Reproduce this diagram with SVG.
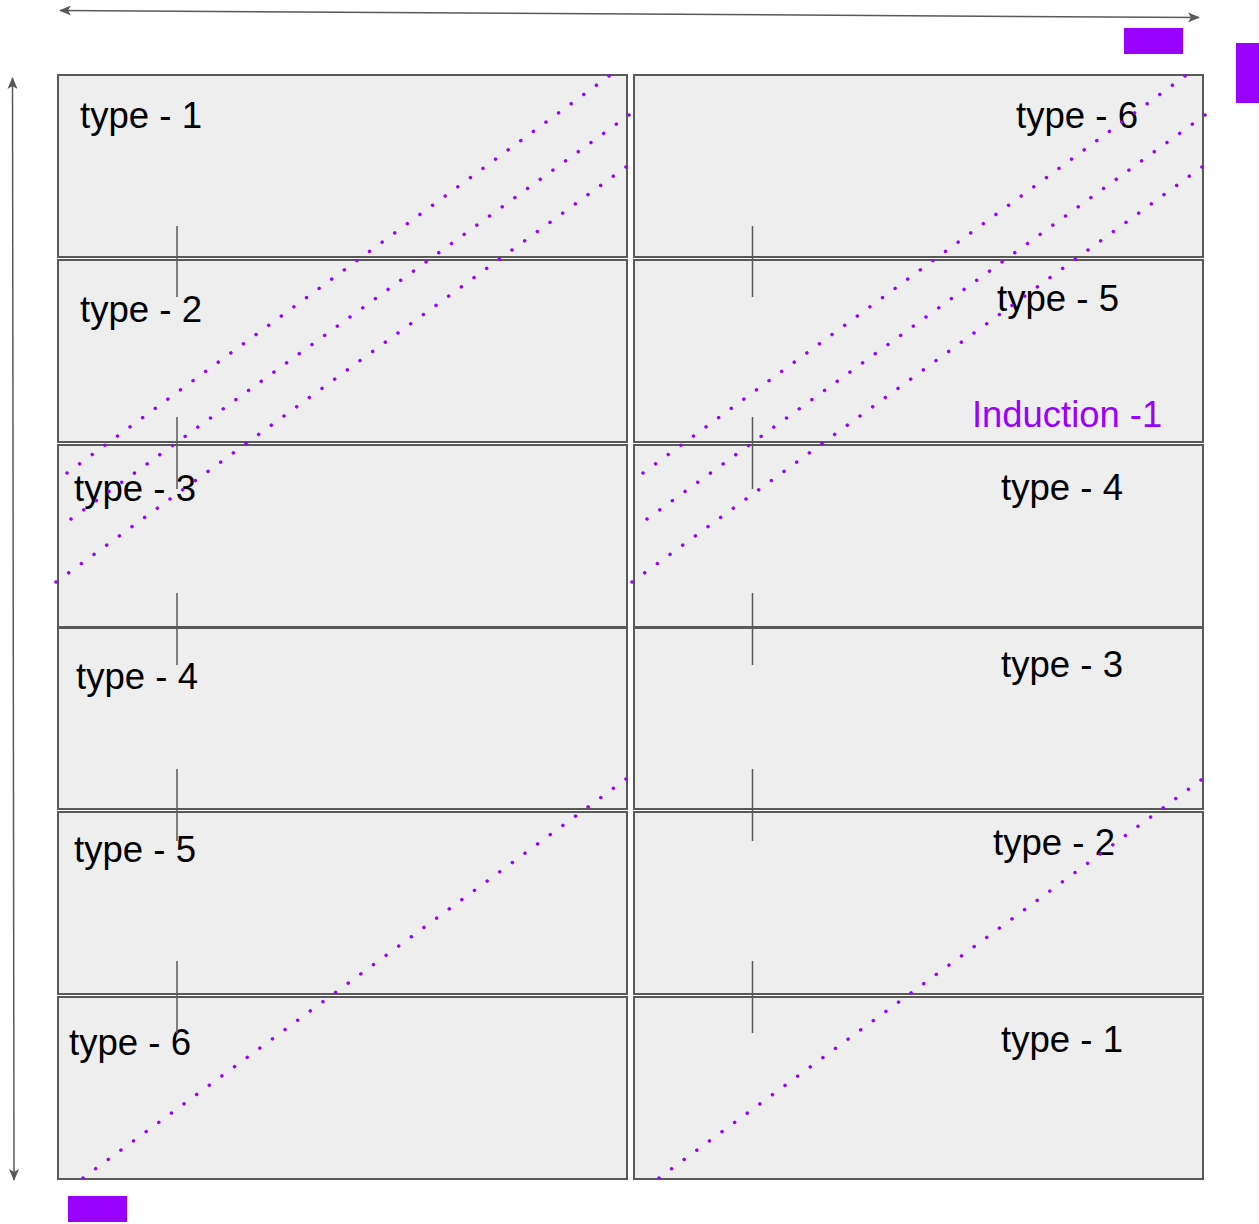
<svg xmlns="http://www.w3.org/2000/svg" width="1259" height="1224" viewBox="0 0 1259 1224">
<defs>
<style>
.box{fill:#eeeeee;stroke:#595959;stroke-width:2}
.lbl{font-family:"Liberation Sans",Arial,sans-serif;font-size:36.6px;fill:#000000}
.ind{font-family:"Liberation Sans",Arial,sans-serif;font-size:36.4px;fill:#9900ff}
.tick{stroke:#595959;stroke-width:1.5;fill:none}
.dot{stroke:#9900ff;stroke-width:3.5;stroke-linecap:round;stroke-dasharray:0.004 0.996;stroke-dashoffset:0.002;fill:none}
.arr{stroke:#595959;stroke-width:1.5;fill:none}
.mark{fill:#9900ff}
</style>
<marker id="ah" viewBox="0 0 12 10" refX="11" refY="5" markerWidth="12" markerHeight="10" markerUnits="userSpaceOnUse" orient="auto-start-reverse">
<path d="M0,0 L12,5 L0,10 L3,5 Z" fill="#595959"/>
</marker>
</defs>
<rect width="1259" height="1224" fill="#ffffff"/>

<g id="left-type-1"><rect class="box" x="58" y="75" width="569" height="182"/><text class="lbl" x="80" y="128">type - 1</text></g>
<g id="left-type-2"><rect class="box" x="58" y="260" width="569" height="182"/><text class="lbl" x="80" y="322">type - 2</text></g>
<g id="left-type-3"><rect class="box" x="58" y="445" width="569" height="182"/><text class="lbl" x="74" y="501">type - 3</text></g>
<g id="left-type-4"><rect class="box" x="58" y="628" width="569" height="181"/><text class="lbl" x="76" y="689">type - 4</text></g>
<g id="left-type-5"><rect class="box" x="58" y="812" width="569" height="182"/><text class="lbl" x="74" y="862">type - 5</text></g>
<g id="left-type-6"><rect class="box" x="58" y="997" width="569" height="182"/><text class="lbl" x="69" y="1055">type - 6</text></g>

<g id="right-type-6"><rect class="box" x="634" y="75" width="569" height="182"/><text class="lbl" x="1016" y="128">type - 6</text></g>
<g id="right-type-5"><rect class="box" x="634" y="260" width="569" height="182"/><text class="lbl" x="997" y="311">type - 5</text><text class="ind" x="972" y="427">Induction -1</text></g>
<g id="right-type-4"><rect class="box" x="634" y="445" width="569" height="182"/><text class="lbl" x="1001" y="500">type - 4</text></g>
<g id="right-type-3"><rect class="box" x="634" y="628" width="569" height="181"/><text class="lbl" x="1001" y="677">type - 3</text></g>
<g id="right-type-2"><rect class="box" x="634" y="812" width="569" height="182"/><text class="lbl" x="993" y="855">type - 2</text></g>
<g id="right-type-1"><rect class="box" x="634" y="997" width="569" height="182"/><text class="lbl" x="1001" y="1052">type - 1</text></g>

<g id="markers">
<rect class="mark" x="1124" y="28" width="59" height="26"/>
<rect class="mark" x="1236" y="43" width="23" height="60"/>
<rect class="mark" x="68" y="1196" width="59" height="26"/>
</g>

<g id="connectors">
<line class="arr" x1="60" y1="10.5" x2="1199" y2="17.5" marker-start="url(#ah)" marker-end="url(#ah)"/>
<line class="arr" x1="12.5" y1="78" x2="14" y2="1180" marker-start="url(#ah)" marker-end="url(#ah)"/>

<path class="tick" d="M177,226V297M177,417V489M177,593V665M177,769V841M177,961V1033"/>
<path class="tick" d="M752.5,226V297M752.5,417V489M752.5,593V665M752.5,769V841M752.5,961V1033"/>

<line class="dot" pathLength="43" x1="609" y1="76" x2="67" y2="473"/>
<line class="dot" pathLength="44" x1="629" y1="115" x2="71" y2="519"/>
<line class="dot" pathLength="45" x1="626" y1="167" x2="56" y2="582"/>
<line class="dot" pathLength="43" x1="1185" y1="76" x2="643" y2="473"/>
<line class="dot" pathLength="44" x1="1205" y1="115" x2="647" y2="519"/>
<line class="dot" pathLength="45" x1="1202" y1="167" x2="632" y2="582"/>
<line class="dot" pathLength="43" x1="626" y1="779" x2="83" y2="1178"/>
<line class="dot" pathLength="43" x1="1201" y1="780" x2="659" y2="1178"/>
</g>
</svg>
